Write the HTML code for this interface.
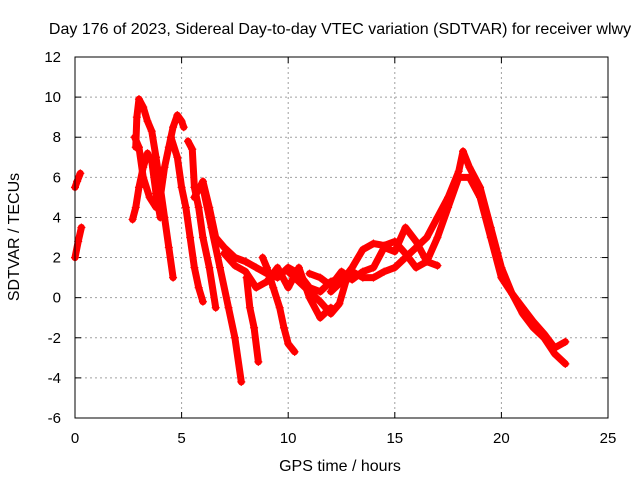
<!DOCTYPE html>
<html><head><meta charset="utf-8"><style>
body{margin:0;background:#fff;}
svg text{font-family:"Liberation Sans",sans-serif;font-size:16px;fill:#000;}
svg text.tk{font-size:15px;}
</style></head><body>
<svg id="chart" width="640" height="480" xmlns="http://www.w3.org/2000/svg">
<rect width="640" height="480" fill="#fff"/>
<text x="340" y="34" text-anchor="middle">Day 176 of 2023, Sidereal Day-to-day VTEC variation (SDTVAR) for receiver wlwy</text>
<text x="340" y="471" text-anchor="middle">GPS time / hours</text>
<text transform="translate(19,237) rotate(-90)" text-anchor="middle">SDTVAR / TECUs</text>
<g id="grid"></g><g id="ticks"></g><g id="series"></g>
<rect x="75" y="57" width="533" height="361" fill="none" stroke="#000" stroke-width="1"/>
</svg>
<script>
const xTicks=[0,5,10,15,20,25];
const yTicks=[-6,-4,-2,0,2,4,6,8,10,12];
const trackA=[[0,5.5],[0.1,5.8],[0.25,6.2]];
const trackB=[[0,2],[0.15,2.8],[0.3,3.5]];
const trackC=[[2.85,7.5],[2.9,9.0],[3.0,9.9],[3.2,9.5],[3.4,8.8],[3.6,8.3],[3.8,7.0],[4.0,5.5],[4.2,4.0],[4.4,2.5],[4.6,1.0]];
const trackD=[[2.7,3.9],[2.85,4.5],[3.0,5.5],[3.2,6.5],[3.4,7.2],[3.6,6.8],[3.8,5.2],[4.0,4.0]];
const trackE=[[2.8,8.0],[3.0,7.5],[3.2,6.0],[3.5,5.0],[3.8,4.5],[4.0,5.0],[4.2,6.5],[4.4,7.5],[4.6,8.5],[4.8,9.1],[5.0,8.8],[5.1,8.5]];
const trackF=[[4.5,8.0],[4.8,7.0],[5.0,5.5],[5.2,4.5],[5.4,3.0],[5.6,1.5],[5.8,0.5],[6.0,-0.2]];
const trackG=[[5.3,7.8],[5.5,7.4],[5.6,5.5],[5.8,4.5],[6.0,3.0],[6.3,1.5],[6.6,-0.5]];
const trackH=[[5.6,5.0],[6.0,5.8],[6.3,4.5],[6.6,3.0],[7.0,2.5],[7.5,2.0],[8.0,1.8],[8.5,1.5],[9.0,1.2],[9.5,1.0],[10,1.5],[10.5,1.2],[11,0.5],[11.5,0.3],[12,0.8],[12.5,1.0]];
const trackI=[[6.0,5.5],[6.4,3.5],[6.8,1.5],[7.2,-0.5],[7.5,-2.0],[7.8,-4.2]];
const trackJ=[[8.05,1.0],[8.2,-0.5],[8.4,-1.5],[8.6,-3.2]];
const trackK=[[8.8,2.0],[9.0,1.5],[9.3,0.5],[9.6,-0.5],[9.8,-1.5],[10.0,-2.3],[10.3,-2.7]];
const trackL=[[7,2.2],[7.5,1.6],[8,1.3],[8.5,0.5],[9,0.8],[9.5,1.5],[10,0.5],[10.5,1.5],[11,0.0],[11.5,-1.0],[12,-0.5]];
const trackM=[[10,1.3],[10.5,0.8],[11,0.3],[11.5,-0.2],[12,-0.8],[12.4,-0.3],[12.7,0.8],[13,1.3],[13.5,1.0],[14,1.0],[14.5,1.3],[15,1.5],[15.5,2.0],[16,2.5],[16.5,3.0],[17,4.0],[17.5,5.0],[18,6.3],[18.2,7.3],[18.5,6.5],[19,5.5],[19.5,3.5],[20,1.5],[20.5,0.2],[21,-0.8],[21.5,-1.5],[22,-2.0],[22.5,-2.8],[23,-3.3]];
const trackN=[[12,0.3],[12.5,0.8],[13,1.5],[13.5,2.4],[14,2.7],[14.5,2.6],[15,2.8],[15.5,2.2],[16,1.5],[16.5,1.8],[17,3.0],[17.5,4.5],[18,6.0],[18.5,6.0],[19,5.0],[19.5,3.0],[20,1.0],[20.5,0.2],[21,-0.5],[21.5,-1.2],[22,-1.8],[22.5,-2.5],[23,-2.2]];
const trackO=[[11,1.2],[11.5,1.0],[12,0.6],[12.5,1.3],[13,0.9],[13.5,1.3],[14,1.5],[14.5,2.5],[15,2.3],[15.5,3.5],[16,2.8],[16.5,1.8],[17,1.6]];
const tracks=[trackA,trackB,trackC,trackD,trackE,trackF,trackG,trackH,trackI,trackJ,trackK,trackL,trackM,trackN,trackO];

const X0=75,X1=608,Y0=418,Y1=57;
const xs=t=>X0+(t-0)/(25-0)*(X1-X0);
const ys=v=>Y0-(v+6)/(12+6)*(Y0-Y1);
const NS="http://www.w3.org/2000/svg";
const grid=document.getElementById('grid'),ticks=document.getElementById('ticks'),ser=document.getElementById('series');
function mk(tag,attrs,parent){const e=document.createElementNS(NS,tag);for(const k in attrs)e.setAttribute(k,attrs[k]);parent.appendChild(e);return e;}
xTicks.forEach(t=>{
  const x=xs(t);
  if(t>0&&t<25){const g=mk('line',{x1:x,x2:x,y1:Y1,y2:Y0,stroke:'#a0a0a0','stroke-dasharray':'2,3'},grid);
  
  }
  mk('line',{x1:x,x2:x,y1:Y0,y2:Y0-6,stroke:'#000'},ticks);
  mk('line',{x1:x,x2:x,y1:Y1,y2:Y1+6,stroke:'#000'},ticks);
  const l=mk('text',{x:x,y:Y0+25,'text-anchor':'middle','class':'tk'},ticks);l.textContent=t;
  
  
});
yTicks.forEach(v=>{
  const y=ys(v);
  if(v>-6&&v<12){const g=mk('line',{x1:X0,x2:X1,y1:y,y2:y,stroke:'#a0a0a0','stroke-dasharray':'2,3'},grid);
  
  }
  mk('line',{x1:X0,x2:X0+6,y1:y,y2:y,stroke:'#000'},ticks);
  mk('line',{x1:X1,x2:X1-6,y1:y,y2:y,stroke:'#000'},ticks);
  const l=mk('text',{x:X0-14,y:y+5,'text-anchor':'end','class':'tk'},ticks);l.textContent=v;
  
  
});
tracks.forEach((tr,i)=>{
  const g=mk('g',{},ser);
  
  
  mk('polyline',{points:tr.map(p=>xs(p[0])+','+ys(p[1])).join(' '),fill:'none',stroke:'#ff0000','stroke-width':7,'stroke-linejoin':'round','stroke-linecap':'round'},g);
  tr.forEach(p=>{const x=xs(p[0]),y=ys(p[1]);
    const m=mk('path',{d:`M${x-4},${y}H${x+4}M${x},${y-4}V${y+4}`,stroke:'#ff0000','stroke-width':1.2},g);
    
    
  });
});
</script>
</body></html>
